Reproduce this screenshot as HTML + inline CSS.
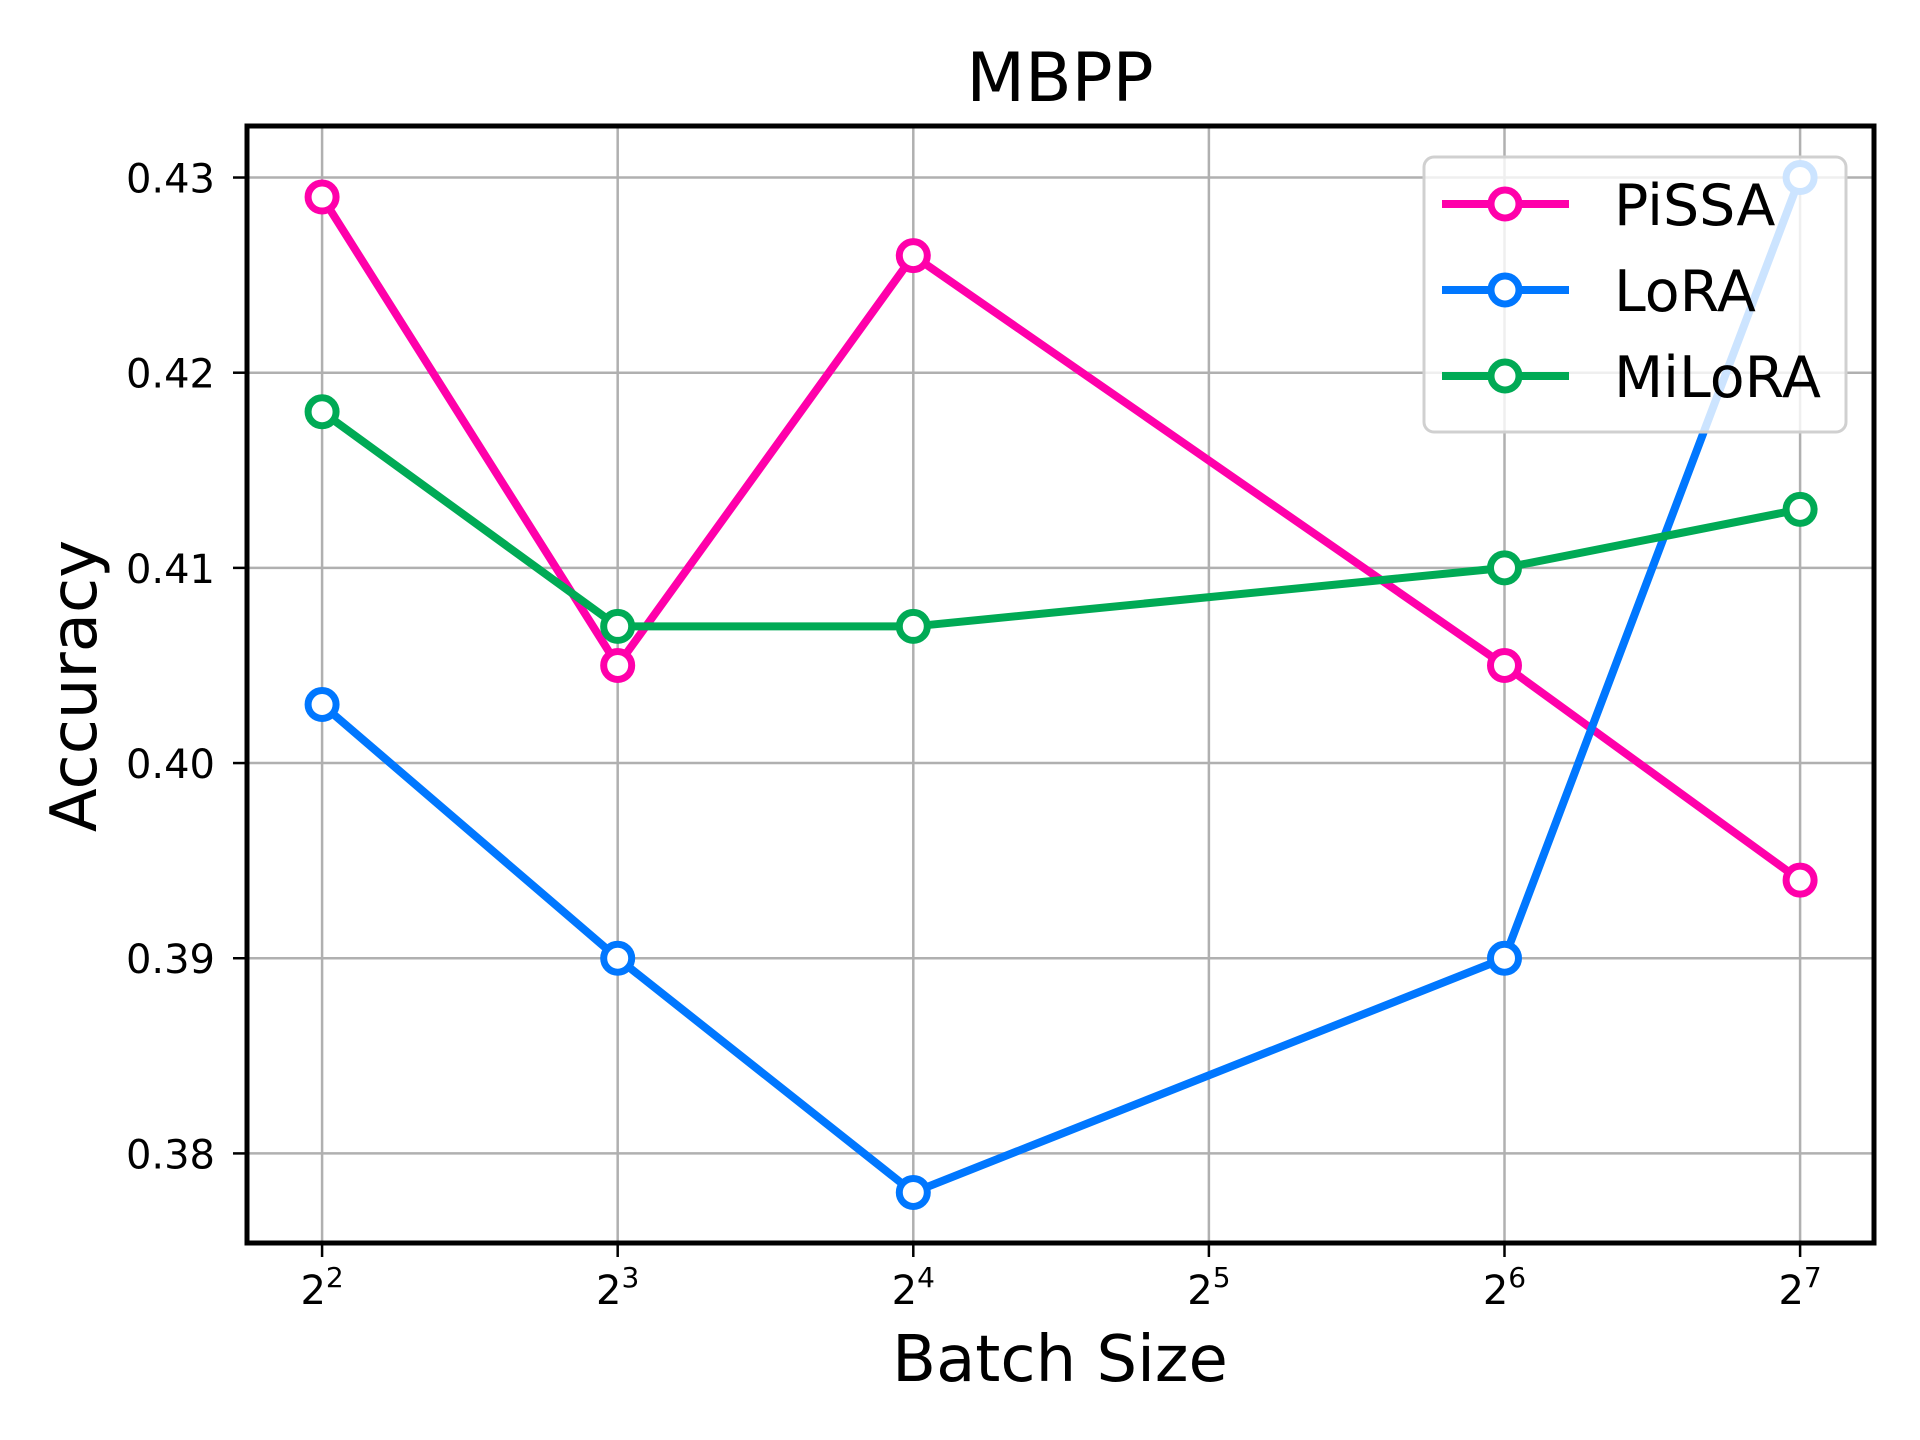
<!DOCTYPE html>
<html><head><meta charset="utf-8"><style>
html,body{margin:0;padding:0;background:#fff;}
svg{display:block;font-family:"DejaVu Sans","Liberation Sans",sans-serif;}
</style></head><body>
<svg id="chart" width="1920" height="1440" viewBox="0 0 1920 1440" xmlns="http://www.w3.org/2000/svg">
<g id="grid"></g>
<g id="series"></g>
<g id="axes"></g>
<g id="legend"></g>
</svg>
<script>
const categories = [4, 8, 16, 64, 128];
const xTickLabels = [2, 3, 4, 5, 6, 7];
const yTicks = [0.38, 0.39, 0.40, 0.41, 0.42, 0.43];
const pissa = [0.429, 0.405, 0.426, 0.405, 0.394];
const lora = [0.403, 0.390, 0.378, 0.390, 0.430];
const milora = [0.418, 0.407, 0.407, 0.410, 0.413];
const seriesNames = ["PiSSA", "LoRA", "MiLoRA"];

const NS = "http://www.w3.org/2000/svg";
const L = 247, R = 1874, T = 126, B = 1243;
const xMin = 1.746, xMax = 7.25, yMin = 0.37541, yMax = 0.43264;
function xs(v){ return L + (Math.log2(v) - xMin) / (xMax - xMin) * (R - L); }
function xe(e){ return L + (e - xMin) / (xMax - xMin) * (R - L); }
function ys(v){ return B - (v - yMin) / (yMax - yMin) * (B - T); }
function mk(tag, attrs, parent){
  const el = document.createElementNS(NS, tag);
  for (const k in attrs) el.setAttribute(k, attrs[k]);
  parent.appendChild(el); return el;
}
const grid = document.getElementById('grid'), series = document.getElementById('series'),
      axes = document.getElementById('axes'), legend = document.getElementById('legend');

xTickLabels.forEach(e => {
  const x = xe(e);
  const g = mk('line', {x1:x, x2:x, y1:T, y2:B, stroke:'#b0b0b0', 'stroke-width':2.5}, grid);
  
  
  const t = mk('line', {x1:x, x2:x, y1:B, y2:B+14, stroke:'#000', 'stroke-width':2.5}, axes);
  
  
  const tx = mk('text', {x:x, y:1304, 'font-size':40, 'text-anchor':'middle'}, axes);
  
  
  const b = mk('tspan', {}, tx); b.textContent = '2';
  const s = mk('tspan', {dy:-17, 'font-size':28}, tx); s.textContent = String(e);
});
yTicks.forEach(v => {
  const y = ys(v);
  const g = mk('line', {x1:L, x2:R, y1:y, y2:y, stroke:'#b0b0b0', 'stroke-width':2.5}, grid);
  
  
  const t = mk('line', {x1:L-14, x2:L, y1:y, y2:y, stroke:'#000', 'stroke-width':2.5}, axes);
  
  
  const tx = mk('text', {x:L-32, y:y+15, 'font-size':40, 'text-anchor':'end'}, axes);
  
  
  tx.textContent = v.toFixed(2);
});

const colors = ['#ff00aa', '#0077ff', '#00aa55'];
[pissa, lora, milora].forEach((vals, si) => {
  const pts = vals.map((v,i) => xs(categories[i]) + ',' + ys(v)).join(' ');
  const pl = mk('polyline', {points:pts, fill:'none', stroke:colors[si], 'stroke-width':8, 'stroke-linejoin':'round'}, series);
  
  
  vals.forEach((v,i) => {
    const c = mk('circle', {cx:xs(categories[i]), cy:ys(v), r:14, fill:'#fff', stroke:colors[si], 'stroke-width':7}, series);
    
    
  });
});

const frame = mk('rect', {x:L, y:T, width:R-L, height:B-T, fill:'none', stroke:'#000', 'stroke-width':5}, axes);


const title = mk('text', {x:1060, y:101, 'font-size':68, 'text-anchor':'middle'}, axes);


title.textContent = 'MBPP';
const xl = mk('text', {x:1060, y:1381, 'font-size':64, 'text-anchor':'middle'}, axes);


xl.textContent = 'Batch Size';
const yl = mk('text', {x:0, y:0, 'font-size':64, 'text-anchor':'middle', transform:'translate(96,686) rotate(-90)'}, axes);


yl.textContent = 'Accuracy';

const box = mk('rect', {x:1424, y:157, width:422, height:275, rx:10, fill:'#fff', 'fill-opacity':0.8, stroke:'#d0d0d0', 'stroke-width':3}, legend);


seriesNames.forEach((n, i) => {
  const y = 204 + i * 86;
  const g = mk('g', {}, legend);
  
  
  mk('line', {x1:1442, x2:1569, y1:y, y2:y, stroke:colors[i], 'stroke-width':8}, g);
  mk('circle', {cx:1505, cy:y, r:14, fill:'#fff', stroke:colors[i], 'stroke-width':7}, g);
  const t = mk('text', {x:1614, y:y+21, 'font-size':57}, g);
  t.textContent = n;
});
</script>
</body></html>
